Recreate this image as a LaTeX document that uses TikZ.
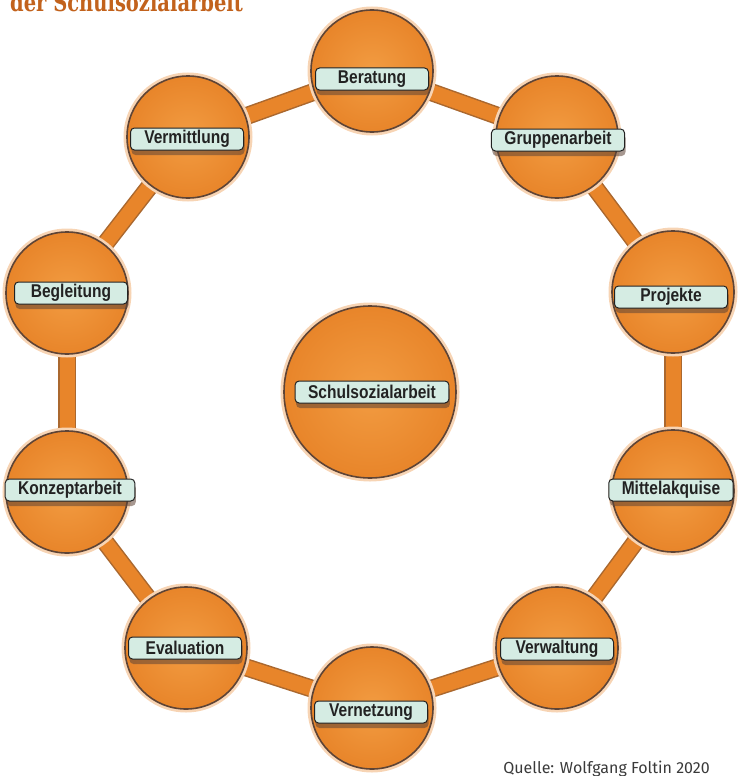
\documentclass[tikz,border=0pt]{standalone}
\usepackage{fontspec}
\setmainfont{Liberation Sans}
\newfontfamily\tagfont[FakeStretch=0.84]{Liberation Sans}
\newfontfamily\titlefont[FakeStretch=0.78]{DejaVu Serif}
\newfontfamily\notefont{Fira Sans}
\usetikzlibrary{positioning,shapes,backgrounds,shadows}
\definecolor{ringorange}{HTML}{E8852A}
\definecolor{ringlight}{HTML}{F29C42}
\definecolor{ringedge}{HTML}{5E4436}
\definecolor{tagfill}{HTML}{D5ECE3}
\definecolor{tagline}{HTML}{222222}
\definecolor{titleorange}{HTML}{C2621C}
\definecolor{notegray}{HTML}{3A3A3A}

\begin{document}
\begin{tikzpicture}[
    x=1pt, y=-1pt,
    ball/.style={circle, draw=ringedge, line width=1.6pt, inner color=ringlight, outer color=ringorange, minimum size=122pt, inner sep=0pt, preaction={draw=ringorange!35, line width=7pt}},
    hub/.style={ball, minimum size=172pt},
    tag/.style={rectangle, draw=tagline, line width=1pt, fill=tagfill, rounded corners=4pt, minimum width=113pt, minimum height=22pt, inner xsep=13pt, inner ysep=0pt, text=tagline, font=\tagfont\bfseries\fontsize{18.5}{19}\selectfont, drop shadow={shadow xshift=1pt, shadow yshift=-5pt, opacity=0.55, fill=ringedge}},
    link/.style={line width=15pt, ringorange, preaction={draw=ringedge!45!ringorange, line width=18pt}},
    note/.style={inner sep=0pt, text=notegray, font=\notefont\fontsize{16}{16}\selectfont}
]
    \useasboundingbox (0,0) rectangle (747,776);

    % Title (cut at the top edge)
    \node [anchor=base west, inner sep=0pt, text=titleorange, font=\titlefont\bfseries\fontsize{25}{25}\selectfont] (titel) at (10,12) {der Schulsozialarbeit};

    % Ring of tasks
    \node [ball] (beratung) at (372,71) {};
    \node [ball] (gruppenarbeit) at (557,137) {};
    \node [ball] (projekte) at (673,292) {};
    \node [ball] (mittelakquise) at (673,491) {};
    \node [ball] (verwaltung) at (557,648) {};
    \node [ball] (vernetzung) at (372,708) {};
    \node [ball] (evaluation) at (186,648) {};
    \node [ball] (konzeptarbeit) at (67,492) {};
    \node [ball] (begleitung) at (67,293) {};
    \node [ball] (vermittlung) at (188,137) {};

    % Centre
    \node [hub] (schulsozialarbeit) at (370,392) {};

    % Connections
    \begin{scope}[on background layer]
    \draw [link] (beratung.center) -- (gruppenarbeit.center);
    \draw [link] (gruppenarbeit.center) -- (projekte.center);
    \draw [link] (projekte.center) -- (mittelakquise.center);
    \draw [link] (mittelakquise.center) -- (verwaltung.center);
    \draw [link] (verwaltung.center) -- (vernetzung.center);
    \draw [link] (vernetzung.center) -- (evaluation.center);
    \draw [link] (evaluation.center) -- (konzeptarbeit.center);
    \draw [link] (konzeptarbeit.center) -- (begleitung.center);
    \draw [link] (begleitung.center) -- (vermittlung.center);
    \draw [link] (vermittlung.center) -- (beratung.center);
    \end{scope}

    % Labels
    \node [tag] (t-beratung) at (372,79) {Beratung};
    \node [tag] (t-gruppenarbeit) at (558,140) {Gruppenarbeit};
    \node [tag] (t-projekte) at (671,297) {Projekte};
    \node [tag] (t-mittelakquise) at (671,490) {Mittelakquise};
    \node [tag] (t-verwaltung) at (557,649) {Verwaltung};
    \node [tag] (t-vernetzung) at (371,712) {Vernetzung};
    \node [tag] (t-evaluation) at (185,648) {Evaluation};
    \node [tag] (t-konzeptarbeit) at (70,490) {Konzeptarbeit};
    \node [tag] (t-begleitung) at (71,293) {Begleitung};
    \node [tag] (t-vermittlung) at (187,139) {Vermittlung};
    \node [tag] (t-schulsozialarbeit) at (372,392) {Schulsozialarbeit};

    % Source
    \node [note, anchor=base east] (quelle) at (710,773) {Quelle: Wolfgang Foltin 2020};
\end{tikzpicture}
\end{document}
